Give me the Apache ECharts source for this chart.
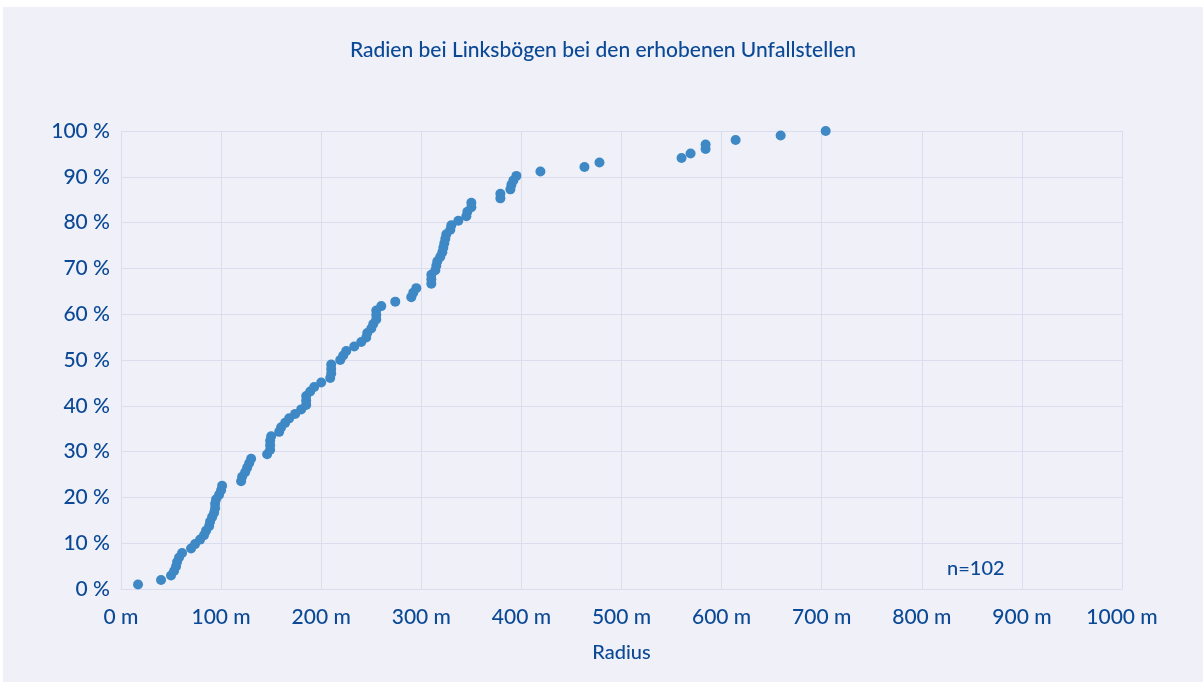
<!DOCTYPE html>
<html>
<head>
<meta charset="utf-8">
<script src="https://cdn.jsdelivr.net/npm/echarts@6/dist/echarts.min.js"></script>
<style>
  html, body { margin: 0; padding: 0; background: #fff; }
  #main { position: absolute; left: 3px; top: 7px; width: 1200px; height: 675px; background: #eff0f8; }
</style>
</head>
<body>
<div id="main"></div>
<script>
// Radien (m) der Linksbögen, aufsteigend sortiert (n=102)
var radii = [
  17, 40, 50, 53, 55, 56, 58, 61, 70, 74,
  79, 83, 85, 88, 89, 91, 93, 94, 94, 95,
  98, 100, 101, 120, 121, 124, 126, 128, 130, 146,
  149, 149, 149, 150, 158, 160, 164, 168, 174, 180,
  185, 185, 185, 189, 193, 200, 209, 210, 210, 210,
  219, 222, 225, 233, 240, 245, 246, 250, 252, 255,
  255, 255, 260, 274, 290, 292, 295, 310, 310, 310,
  314, 315, 316, 319, 321, 322, 323, 324, 325, 329,
  330, 337, 345, 346, 350, 350, 379, 379, 389, 390,
  392, 395, 419, 463, 478, 560, 569, 584, 584, 614,
  659, 704
];
var xTicks = { min: 0, max: 1000, step: 100 };
var yTicks = { min: 0, max: 100, step: 10 };
var titleText = 'Radien bei Linksbögen bei den erhobenen Unfallstellen';
var noteText = 'n=102';

var textColor = '#0b4996';
var gridColor = '#dcdcef';
var dotColor = '#3e89c5';

// kumulierter Anteil je Rang
var points = radii.map(function (r, i) {
    return [r, (i + 1) / radii.length * 100];
});

var myChart = echarts.init(document.getElementById('main'));

var option = {
    backgroundColor: '#eff0f8',
    title: {
        text: titleText,
        left: 'center',
        top: 28,
        textStyle: {
            fontFamily: 'Lato',
            fontSize: 21,
            fontWeight: 500,
            color: textColor
        }
    },
    grid: {
        left: 118,
        right: 81,
        top: 124,
        bottom: 93
    },
    xAxis: {
        type: 'value',
        min: xTicks.min,
        max: xTicks.max,
        interval: xTicks.step,
        name: 'Radius',
        nameLocation: 'middle',
        nameGap: 54,
        nameTextStyle: { fontFamily: 'Lato', fontSize: 20, fontWeight: 500, color: textColor },
        axisLine: { show: true, lineStyle: { color: gridColor, width: 1 } },
        axisTick: { show: false },
        splitLine: { show: true, lineStyle: { color: gridColor, width: 1 } },
        axisLabel: {
            formatter: function (v) { return v + ' m'; },
            margin: 18,
            fontFamily: 'Lato',
            fontSize: 21,
            fontWeight: 500,
            color: textColor
        }
    },
    yAxis: {
        type: 'value',
        min: yTicks.min,
        max: yTicks.max,
        interval: yTicks.step,
        axisLine: { show: true, lineStyle: { color: gridColor, width: 1 } },
        axisTick: { show: false },
        splitLine: { show: true, lineStyle: { color: gridColor, width: 1 } },
        axisLabel: {
            formatter: function (v) { return v + ' %'; },
            margin: 11,
            fontFamily: 'Lato',
            fontSize: 21,
            fontWeight: 500,
            color: textColor
        }
    },
    graphic: [{
        type: 'text',
        left: 944,
        top: 552,
        style: {
            text: noteText,
            font: '500 20px Lato',
            fill: textColor
        }
    }],
    series: [{
        type: 'scatter',
        data: points,
        symbolSize: 10,
        itemStyle: { color: dotColor, opacity: 1 }
    }]
};

myChart.setOption(option);

window.onresize = function () {
    myChart.resize();
};
</script>
</body>
</html>
